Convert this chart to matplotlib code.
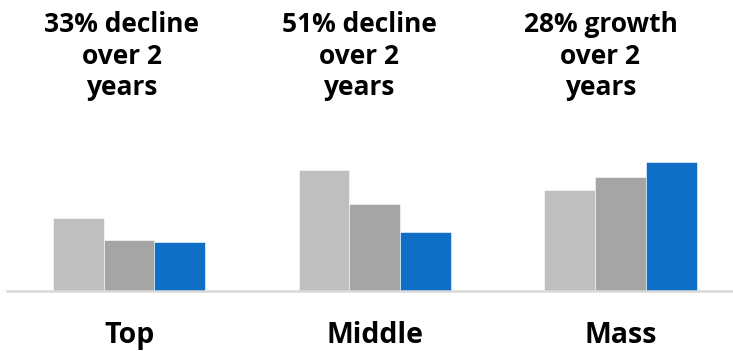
import matplotlib
matplotlib.use("Agg")
import matplotlib.pyplot as plt
import matplotlib.transforms as mtransforms
import numpy as np

plt.rcParams['font.family'] = ['Open Sans', 'DejaVu Sans']

categories = ["Top", "Middle", "Mass"]
year1 = [73, 121, 101]
year2 = [51, 87, 114]
year3 = [49, 59, 129]
headlines = [
    ["33% decline", "over 2", "years"],
    ["51% decline", "over 2", "years"],
    ["28% growth", "over 2", "years"],
]

colors = ["#bfbfbf", "#a5a5a5", "#0f6fc6"]

W, H = 733, 351
fig = plt.figure(figsize=(W / 100, H / 100), dpi=100)
fig.patch.set_facecolor("white")

base_px = 291
top_px = 110
ax = fig.add_axes([7 / W, (H - base_px) / H, (W - 7) / W, (base_px - top_px) / H])
ax.set_xlim(-0.497, 2.458)
ax.set_ylim(0, base_px - top_px)

x = np.arange(len(categories))
bw = 0.2065
for i, (vals, c) in enumerate(zip([year1, year2, year3], colors)):
    ax.bar(x + (i - 1) * bw, vals, width=bw, color=c, edgecolor="white",
           linewidth=0.4, zorder=2)

for s in ["top", "left", "right"]:
    ax.spines[s].set_visible(False)
ax.spines["bottom"].set_color("#d9d9d9")
ax.spines["bottom"].set_linewidth(1.8)
ax.spines["bottom"].set_zorder(3)
ax.set_xticks([])
ax.set_yticks([])

# category labels under each group
trans = mtransforms.blended_transform_factory(ax.transData, fig.transFigure)
for xi, name in zip(x, categories):
    ax.text(xi, (H - 343) / H, name, transform=trans, ha="center",
            va="baseline", fontsize=20.5, fontweight="bold", color="black")

# headline blocks above the groups
head_x = [122, 359, 600.5]
baselines = [32, 63.5, 95]
for hx, lines in zip(head_x, headlines):
    for by, line in zip(baselines, lines):
        fig.text(hx / W, (H - by) / H, line, ha="center", va="baseline",
                 fontsize=19, fontweight="bold", color="black")

fig.savefig("out.png", dpi=100, facecolor="white")
